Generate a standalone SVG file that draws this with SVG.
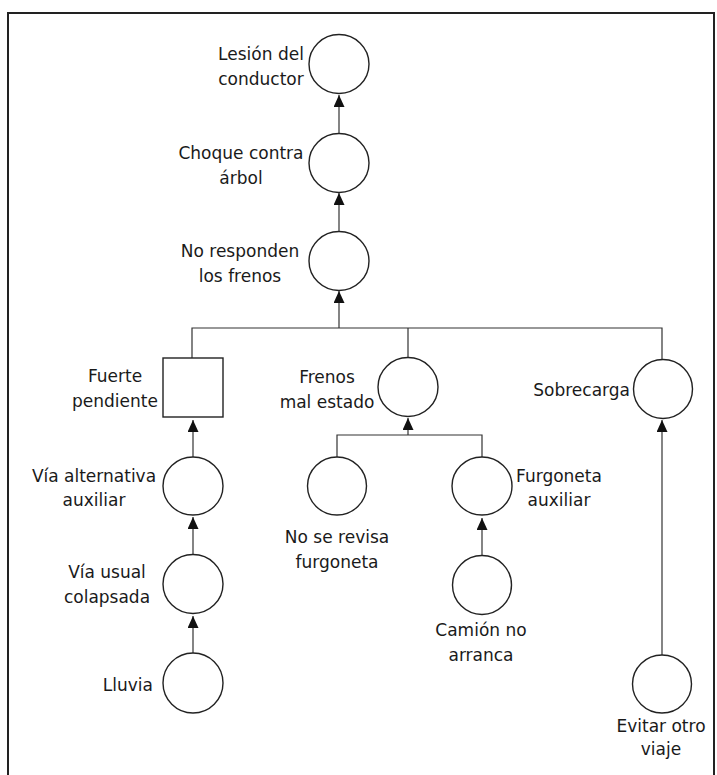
<svg xmlns="http://www.w3.org/2000/svg" width="717" height="775" viewBox="0 0 717 775">
<defs>
<marker id="arr" markerUnits="userSpaceOnUse" markerWidth="13" markerHeight="11" refX="12" refY="5.5" orient="auto">
<path d="M0,0 L12,5.5 L0,11 z" fill="#111"/>
</marker>
<style>
.n{fill:#fff;stroke:#222;stroke-width:1.4}
.t{font-family:"DejaVu Sans",Verdana,sans-serif;font-size:17px;fill:#1a1a1a;text-anchor:middle}
.r{text-anchor:end}
.e{fill:none;stroke:#333;stroke-width:1.2}
</style>
</defs>
<rect x="0" y="0" width="717" height="775" fill="#fff"/>
<path d="M8,775 V13 H714 V775" fill="none" stroke="#222" stroke-width="2"/>
<g id="connectors">
<line class="e" x1="339" y1="134" x2="339" y2="95" marker-end="url(#arr)"/>
<line class="e" x1="339" y1="232" x2="339" y2="193" marker-end="url(#arr)"/>
<line class="e" x1="339" y1="328" x2="339" y2="291" marker-end="url(#arr)"/>
<path class="e" d="M192,358 V328 H662 V360 M408,328 V357.5"/>
<line class="e" x1="408" y1="435" x2="408" y2="418" marker-end="url(#arr)"/>
<path class="e" d="M337,457 V435 H482 V457"/>
<line class="e" x1="193" y1="457" x2="193" y2="420" marker-end="url(#arr)"/>
<line class="e" x1="193" y1="555" x2="193" y2="517" marker-end="url(#arr)"/>
<line class="e" x1="193" y1="654" x2="193" y2="616" marker-end="url(#arr)"/>
<line class="e" x1="482" y1="556" x2="482" y2="518" marker-end="url(#arr)"/>
<line class="e" x1="662" y1="655" x2="662" y2="420" marker-end="url(#arr)"/>
</g>
<g id="lesion"><ellipse class="n" cx="339" cy="64" rx="30" ry="29.5"/><text class="t" x="261" y="60">Lesión del</text><text class="t" x="261" y="85">conductor</text></g>
<g id="choque"><ellipse class="n" cx="339" cy="163" rx="30" ry="29.5"/><text class="t" x="241" y="159">Choque contra</text><text class="t" x="241" y="184">árbol</text></g>
<g id="noresponden"><ellipse class="n" cx="339" cy="261" rx="30" ry="29.5"/><text class="t" x="240" y="257">No responden</text><text class="t" x="240" y="282">los frenos</text></g>
<g id="fuerte"><rect class="n" x="163" y="358" width="60" height="59"/><text class="t" x="115" y="382">Fuerte</text><text class="t" x="115" y="407">pendiente</text></g>
<g id="frenos"><ellipse class="n" cx="408" cy="387" rx="30" ry="29.5"/><text class="t" x="327" y="383">Frenos</text><text class="t" x="327" y="408">mal estado</text></g>
<g id="sobrecarga"><ellipse class="n" cx="663" cy="389" rx="29.5" ry="29.5"/><text class="t r" x="630" y="396">Sobrecarga</text></g>
<g id="viaalt"><ellipse class="n" cx="193" cy="486" rx="30" ry="29"/><text class="t" x="94" y="482">Vía alternativa</text><text class="t" x="94" y="506">auxiliar</text></g>
<g id="norevisa"><ellipse class="n" cx="337" cy="486" rx="29.5" ry="29"/><text class="t" x="337" y="543">No se revisa</text><text class="t" x="337" y="568">furgoneta</text></g>
<g id="furgoneta"><ellipse class="n" cx="482" cy="486" rx="30" ry="29"/><text class="t" x="559" y="482">Furgoneta</text><text class="t" x="559" y="506">auxiliar</text></g>
<g id="viausual"><ellipse class="n" cx="193" cy="584" rx="30" ry="29.5"/><text class="t" x="107" y="578">Vía usual</text><text class="t" x="107" y="603">colapsada</text></g>
<g id="camion"><ellipse class="n" cx="482" cy="585" rx="29.5" ry="29.5"/><text class="t" x="481" y="636">Camión no</text><text class="t" x="481" y="661">arranca</text></g>
<g id="lluvia"><ellipse class="n" cx="193" cy="683" rx="30" ry="30"/><text class="t r" x="153" y="691">Lluvia</text></g>
<g id="evitar"><ellipse class="n" cx="662" cy="684" rx="29.5" ry="29"/><text class="t" x="661" y="732">Evitar otro</text><text class="t" x="661" y="755">viaje</text></g>
</svg>
